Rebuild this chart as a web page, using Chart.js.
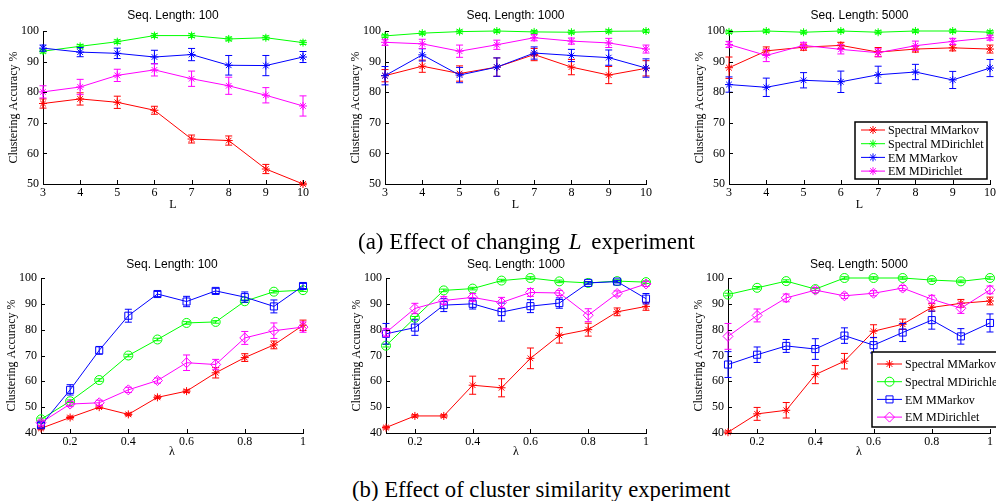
<!DOCTYPE html>
<html>
<head>
<meta charset="utf-8">
<title>Clustering accuracy</title>
<script src="https://cdn.jsdelivr.net/npm/chart.js@4.4.1/dist/chart.umd.min.js"></script>
<style>
  html, body { margin: 0; padding: 0; background: #fff; overflow: hidden; width: 996px; height: 501px; }
  canvas { position: absolute; }
  .caption { position: absolute; font-family: "Liberation Serif", "Times New Roman", serif; font-size: 23px; line-height: 22px; color: #000; white-space: nowrap; }
  .caption i { margin: 0 4px 0 3px; }
</style>
</head>
<body>
<canvas id="a1"></canvas>
<canvas id="a2"></canvas>
<canvas id="a3"></canvas>
<canvas id="b1"></canvas>
<canvas id="b2"></canvas>
<canvas id="b3"></canvas>
<div class="caption" style="left:358px;top:231px">(a) Effect of changing <i>L</i> experiment</div>
<div class="caption" style="left:352px;top:479px;font-size:22.7px">(b) Effect of cluster similarity experiment</div>
<script>
// x values and tick labels
const lengthValues = [3, 4, 5, 6, 7, 8, 9, 10]
const lengthTicks = [3, 4, 5, 6, 7, 8, 9, 10]
const lambdaValues = [0.1, 0.2, 0.3, 0.4, 0.5, 0.6, 0.7, 0.8, 0.9, 1]
const lambdaTicks = [0.2, 0.4, 0.6, 0.8, 1]
const accTicksA = [50, 60, 70, 80, 90, 100]
const accTicksB = [40, 50, 60, 70, 80, 90, 100]

const seriesNames = ["Spectral MMarkov", "Spectral MDirichlet", "EM MMarkov", "EM MDirichlet"]
const seriesColors = ["#ff0000", "#00ff00", "#0000ff", "#ff00ff"]

// rows: Spectral MMarkov, Spectral MDirichlet, EM MMarkov, EM MDirichlet

// (a) changing L
const lenSeq100 = [
  [76.3, 77.8, 76.7, 74.1, 64.7, 64.2, 54.9, 50.0],
  [93.4, 95.0, 96.5, 98.5, 98.5, 97.4, 97.8, 96.2],
  [94.4, 93.1, 92.7, 91.5, 92.3, 88.8, 88.7, 91.5],
  [80.1, 81.7, 85.5, 87.3, 84.4, 82.1, 79.0, 75.5],
]
const lenSeq100Err = [
  [1.5, 2.0, 2.0, 1.3, 1.3, 1.5, 1.5, 0.3],
  [0.6, 0.6, 0.6, 0.6, 0.6, 0.6, 0.6, 0.6],
  [1.0, 1.5, 1.7, 2.2, 2.0, 3.2, 3.3, 1.8],
  [2.0, 2.5, 2.0, 2.0, 2.5, 2.8, 2.5, 3.3],
]
const lenSeq1000 = [
  [85.4, 88.5, 86.1, 88.2, 92.3, 88.2, 85.6, 87.8],
  [98.4, 99.3, 99.8, 100.0, 99.7, 99.6, 99.9, 100.0],
  [85.4, 92.2, 85.6, 88.2, 92.8, 92.0, 91.3, 87.9],
  [96.3, 95.8, 93.4, 95.5, 97.8, 96.7, 96.1, 94.1],
]
const lenSeq1000Err = [
  [2.0, 2.0, 2.5, 3.0, 2.0, 2.5, 2.8, 2.5],
  [0.5, 0.5, 0.5, 0.5, 0.5, 0.5, 0.5, 0.5],
  [3.0, 2.0, 2.5, 3.0, 2.0, 2.0, 2.5, 3.0],
  [1.0, 1.5, 2.0, 1.5, 1.0, 1.0, 1.5, 1.3],
]
const lenSeq5000 = [
  [88.0, 93.5, 94.7, 95.3, 93.1, 94.1, 94.5, 94.1],
  [99.7, 100.0, 99.6, 100.0, 99.6, 100.0, 100.0, 99.6],
  [82.5, 81.6, 83.9, 83.4, 85.7, 86.6, 84.0, 87.9],
  [95.6, 92.0, 95.3, 94.0, 92.9, 95.2, 96.6, 97.8],
]
const lenSeq5000Err = [
  [3.5, 1.3, 1.0, 1.0, 1.5, 1.0, 1.0, 1.3],
  [0.5, 0.5, 0.5, 0.5, 0.5, 0.5, 0.5, 0.5],
  [2.5, 3.0, 2.5, 3.5, 2.8, 2.5, 2.8, 2.8],
  [1.0, 2.0, 1.0, 1.5, 1.3, 1.5, 1.0, 0.8],
]

// (b) cluster similarity
const simSeq100 = [
  [41.8, 46.0, 50.0, 47.2, 53.8, 56.2, 63.3, 69.2, 74.1, 81.7],
  [45.3, 52.3, 60.5, 70.0, 76.2, 82.6, 83.0, 91.0, 94.7, 95.3],
  [43.0, 56.7, 72.0, 85.4, 93.8, 90.9, 95.0, 92.6, 89.0, 96.9],
  [44.0, 51.2, 51.7, 56.7, 60.3, 67.2, 66.5, 76.8, 79.6, 81.0],
]
const simSeq100Err = [
  [0.5, 0.5, 0.5, 0.5, 0.5, 0.5, 2.0, 1.5, 1.5, 2.0],
  [0.5, 0.5, 0.5, 0.5, 0.5, 0.5, 0.5, 0.5, 0.5, 0.5],
  [1.0, 2.0, 1.5, 2.5, 1.0, 2.0, 1.0, 2.0, 2.5, 1.0],
  [1.0, 1.0, 1.0, 1.0, 1.0, 3.0, 2.0, 2.5, 3.0, 2.0],
]
const simSeq1000 = [
  [42.1, 46.6, 46.6, 58.5, 57.5, 68.9, 77.8, 80.0, 86.9, 89.0],
  [73.8, 84.6, 95.2, 95.9, 99.0, 100.0, 98.7, 98.1, 98.8, 98.4],
  [78.4, 80.8, 89.5, 90.0, 86.8, 89.1, 90.3, 98.1, 98.6, 92.0],
  [78.9, 88.2, 91.3, 92.5, 90.5, 94.4, 94.2, 85.6, 94.0, 97.7],
]
const simSeq1000Err = [
  [0.5, 0.5, 0.5, 3.5, 3.5, 4.0, 3.0, 2.5, 1.5, 1.5],
  [0.5, 0.5, 0.5, 0.5, 0.5, 0.5, 0.5, 0.5, 0.5, 0.5],
  [4.0, 3.0, 2.5, 2.0, 3.5, 2.5, 2.0, 0.5, 0.5, 2.0],
  [1.5, 2.0, 1.5, 1.5, 2.0, 1.5, 1.0, 2.5, 1.0, 1.0],
]
const simSeq5000 = [
  [40.3, 47.4, 48.8, 62.6, 67.8, 79.4, 82.1, 88.6, 90.2, 91.1],
  [93.6, 96.2, 98.8, 95.7, 100.0, 100.0, 100.0, 99.2, 98.7, 100.0],
  [66.5, 70.3, 73.7, 72.5, 77.7, 74.0, 78.9, 83.7, 77.4, 82.6],
  [77.4, 85.5, 92.3, 95.3, 93.1, 94.1, 96.1, 91.8, 88.3, 95.4],
]
const simSeq5000Err = [
  [0.5, 2.5, 3.0, 3.5, 3.0, 2.5, 2.0, 1.5, 1.5, 1.5],
  [0.5, 0.5, 0.5, 0.5, 0.5, 0.5, 0.5, 0.5, 0.5, 0.5],
  [5.0, 3.0, 2.5, 4.0, 3.0, 3.0, 3.5, 3.5, 3.0, 3.5],
  [5.0, 2.5, 1.5, 1.0, 1.0, 1.0, 1.0, 1.5, 2.0, 1.5],
]

const SERIF = "'Liberation Serif', 'Times New Roman', serif"
const SANS = "'Liberation Sans', Arial, sans-serif"
const AXIS_W = 45
const TITLE_H = 30
const XAXIS_H = 30
const RIGHT_PAD = 15

// error bars drawn after each line so the stacking follows the datasets
const errorBarPlugin = {
  id: "errorBars",
  afterDatasetDraw(chart, args) {
    const ds = chart.data.datasets[args.index]
    if (!ds.errorBars) return
    const ctx = chart.ctx
    const yScale = chart.scales.y
    ctx.save()
    ctx.strokeStyle = ds.borderColor
    ctx.lineWidth = 1
    args.meta.data.forEach((pt, j) => {
      const v = ds.data[j].y
      const e = ds.errorBars[j]
      const top = yScale.getPixelForValue(v + e)
      const bot = yScale.getPixelForValue(v - e)
      ctx.beginPath()
      ctx.moveTo(pt.x, top)
      ctx.lineTo(pt.x, bot)
      ctx.moveTo(pt.x - 3.5, top)
      ctx.lineTo(pt.x + 3.5, top)
      ctx.moveTo(pt.x - 3.5, bot)
      ctx.lineTo(pt.x + 3.5, bot)
      ctx.stroke()
    })
    ctx.restore()
  },
}

// matlab style inward ticks
const tickMarkPlugin = {
  id: "tickMarks",
  afterDraw(chart) {
    const ctx = chart.ctx
    const a = chart.chartArea
    const xs = chart.scales.x
    const ys = chart.scales.y
    ctx.save()
    ctx.strokeStyle = "#000"
    ctx.lineWidth = 1
    ctx.beginPath()
    xs.ticks.forEach((t) => {
      const px = Math.round(xs.getPixelForValue(t.value)) + 0.5
      ctx.moveTo(px, a.bottom)
      ctx.lineTo(px, a.bottom - 4)
    })
    ys.ticks.forEach((t) => {
      const py = Math.round(ys.getPixelForValue(t.value)) + 0.5
      ctx.moveTo(a.left, py)
      ctx.lineTo(a.left + 4, py)
    })
    ctx.stroke()
    ctx.restore()
  },
}

// boxed legend like matlab's
const boxLegendPlugin = {
  id: "boxLegend",
  afterDraw(chart, args, o) {
    if (!o || !o.show) return
    const ctx = chart.ctx
    const a = chart.chartArea
    const x0 = a.left + o.left
    const y0 = a.top + o.top
    ctx.save()
    ctx.fillStyle = "#fff"
    ctx.strokeStyle = "#000"
    ctx.lineWidth = 1.5
    ctx.fillRect(x0, y0, o.width, o.height)
    ctx.strokeRect(x0, y0, o.width, o.height)
    ctx.font = "12px " + SERIF
    ctx.textBaseline = "middle"
    chart.data.datasets.forEach((ds, i) => {
      const y = y0 + o.firstRow + i * o.rowGap
      ctx.strokeStyle = ds.borderColor
      ctx.lineWidth = 1
      ctx.beginPath()
      ctx.moveTo(x0 + o.lineStart, y)
      ctx.lineTo(x0 + o.lineEnd, y)
      ctx.stroke()
      ctx.fillStyle = "rgba(0,0,0,0)"
      Chart.helpers.drawPoint(ctx, {
        pointStyle: ds.pointStyle,
        radius: ds.pointRadius,
        rotation: 0,
        borderWidth: 1,
      }, x0 + (o.lineStart + o.lineEnd) / 2, y)
      ctx.fillStyle = "#000"
      ctx.fillText(ds.label, x0 + o.textStart, y + 1)
    })
    ctx.restore()
  },
}

function makeChart(p) {
  const canvas = document.getElementById(p.id)
  canvas.width = p.area[2] + AXIS_W + RIGHT_PAD
  canvas.height = p.area[3] + TITLE_H + XAXIS_H
  canvas.style.left = p.area[0] - AXIS_W + "px"
  canvas.style.top = p.area[1] - TITLE_H + "px"

  const datasets = p.means.map((vals, i) => ({
    label: seriesNames[i],
    data: vals.map((y, j) => ({ x: p.xs[j], y: y })),
    errorBars: p.errs[i],
    borderColor: seriesColors[i],
    backgroundColor: "rgba(0,0,0,0)",
    pointBorderColor: seriesColors[i],
    pointBackgroundColor: "rgba(0,0,0,0)",
    pointStyle: p.markers[i],
    pointRadius: p.radii[i],
    pointBorderWidth: 1,
    borderWidth: 1,
    tension: 0,
    clip: false,
    order: 4 - i,
  }))

  new Chart(canvas, {
    type: "line",
    data: { datasets },
    options: {
      responsive: false,
      animation: false,
      events: [],
      layout: { padding: { right: RIGHT_PAD } },
      plugins: {
        legend: { display: false },
        tooltip: { enabled: false },
        title: {
          display: true,
          text: p.title,
          fullSize: false,
          color: "#000",
          font: { family: SANS, size: 12, weight: "normal" },
          padding: p.titlePad,
        },
        boxLegend: p.legend || { show: false },
      },
      scales: {
        x: {
          type: "linear",
          min: p.xs[0],
          max: p.xs[p.xs.length - 1],
          afterBuildTicks: (s) => { s.ticks = p.xTicks.map((v) => ({ value: v })) },
          afterFit: (s) => { s.height = XAXIS_H },
          grid: { display: false, drawTicks: false },
          border: { display: true, color: "#000", width: 1 },
          ticks: {
            color: "#000",
            font: { family: SERIF, size: 12 },
            padding: 2,
            autoSkip: false,
            maxRotation: 0,
            callback: (v) => String(v),
          },
          title: {
            display: true,
            text: p.xLabel,
            color: "#000",
            font: { family: SERIF, size: 12 },
            padding: { top: 0, bottom: p.xTitleBottom },
          },
        },
        y: {
          min: p.yTicks[0],
          max: p.yTicks[p.yTicks.length - 1],
          afterBuildTicks: (s) => { s.ticks = p.yTicks.map((v) => ({ value: v })) },
          afterFit: (s) => { s.width = AXIS_W },
          grid: { display: false, drawTicks: false },
          border: { display: true, color: "#000", width: 1 },
          ticks: {
            color: "#000",
            font: { family: SERIF, size: 12 },
            padding: 4,
            autoSkip: false,
            callback: (v) => String(v),
          },
          title: {
            display: true,
            text: "Clustering Accuracy %",
            color: "#000",
            font: { family: SERIF, size: 12 },
            padding: { top: 8.8, bottom: 0 },
          },
        },
      },
    },
    plugins: [errorBarPlugin, tickMarkPlugin, boxLegendPlugin],
  })
}

const topRow = {
  xs: lengthValues, xTicks: lengthTicks, yTicks: accTicksA, xLabel: "L",
  markers: ["star", "star", "star", "star"], radii: [4, 4, 4, 4],
  titlePad: { top: 7.8, bottom: 7.8 }, xTitleBottom: 2,
}
const bottomRow = {
  xs: lambdaValues, xTicks: lambdaTicks, yTicks: accTicksB, xLabel: "λ",
  markers: ["star", "circle", "rect", "rectRot"], radii: [4, 4.5, 5, 5],
  titlePad: { top: 9.8, bottom: 5.8 }, xTitleBottom: 4,
}

makeChart(Object.assign({}, topRow, { id: "a1", title: "Seq. Length: 100", means: lenSeq100, errs: lenSeq100Err, area: [43, 31, 260, 153] }))
makeChart(Object.assign({}, topRow, { id: "a2", title: "Seq. Length: 1000", means: lenSeq1000, errs: lenSeq1000Err, area: [385, 31, 261, 153] }))
makeChart(Object.assign({}, topRow, {
  id: "a3", title: "Seq. Length: 5000", means: lenSeq5000, errs: lenSeq5000Err, area: [729, 31, 261, 153],
  legend: { show: true, left: 126, top: 91, width: 132, height: 57, firstRow: 8, rowGap: 13.7, lineStart: 6, lineEnd: 30, textStart: 33 },
}))
makeChart(Object.assign({}, bottomRow, { id: "b1", title: "Seq. Length: 100", means: simSeq100, errs: simSeq100Err, area: [41, 278, 262, 155] }))
makeChart(Object.assign({}, bottomRow, { id: "b2", title: "Seq. Length: 1000", means: simSeq1000, errs: simSeq1000Err, area: [386, 278, 260, 155] }))
makeChart(Object.assign({}, bottomRow, {
  id: "b3", title: "Seq. Length: 5000", means: simSeq5000, errs: simSeq5000Err, area: [728, 278, 262, 155],
  legend: { show: true, left: 144, top: 74, width: 140, height: 75, firstRow: 12, rowGap: 17.7, lineStart: 5, lineEnd: 30, textStart: 33 },
}))
</script>
</body>
</html>
